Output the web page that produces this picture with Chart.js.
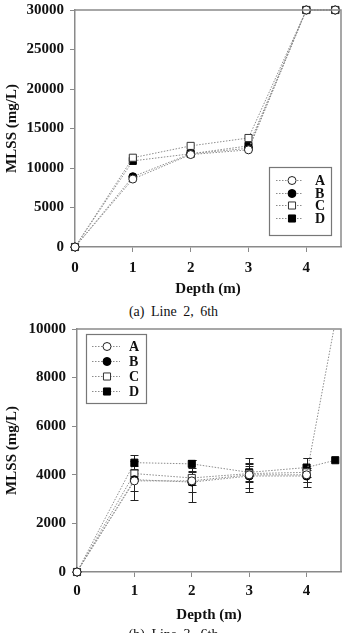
<!DOCTYPE html>
<html><head><meta charset="utf-8">
<script src="https://cdn.jsdelivr.net/npm/chart.js@4.4.0/dist/chart.umd.min.js"></script>
<style>
html,body{margin:0;padding:0;background:#fff;width:347px;height:633px;overflow:hidden;position:relative;}
.box{position:absolute;left:0;width:347px;}
#b1{top:0;height:300px;}
#b2{top:318px;height:315px;}
.cap{position:absolute;left:0;width:347px;text-align:center;font-family:"Liberation Serif",serif;font-size:14px;word-spacing:3px;color:#111;line-height:16px;}
</style></head><body>
<div class="box" id="b1"><canvas id="c1"></canvas></div>
<div class="cap" style="top:304px">(a) Line 2, 6th</div>
<div class="box" id="b2"><canvas id="c2"></canvas></div>
<div class="cap" style="top:627px">(b) Line 3, 6th</div>
<script>
// ---- data ----
const SERIES_NAMES = ['A', 'B', 'C', 'D'];
const DEPTH = [0, 1, 2, 3, 4, 4.5];
const X_TICKS = [0, 1, 2, 3, 4];

// (a) Line 2, 6th
const Y1_TICKS = [0, 5000, 10000, 15000, 20000, 25000, 30000];
const A1 = [0, 8600, 11700, 12300, 30000, 30000];
const B1 = [0, 8900, 11800, 12500, 30000, 30000];
const C1 = [0, 11300, 12800, 13800, 30000, 30000];
const D1 = [0, 10900, 11800, 12800, 30000, 30000];

// (b) Line 3, 6th
const Y2_TICKS = [0, 2000, 4000, 6000, 8000, 10000];
const A2 = [0, 3750, 3750, 4000, 4000, 10300];
const B2 = [0, 3800, 3700, 3950, 3950, null];
const C2 = [0, 4050, 3870, 4050, 4100, null];
const D2 = [0, 4500, 4450, 4100, 4300, 4600];
const A2_ERR = [0, 800, 850, 700, 300, 0];
const B2_ERR = [0, 450, 400, 500, 250, 0];
const C2_ERR = [0, 300, 300, 300, 600, 0];
const D2_ERR = [0, 300, 150, 400, 400, 0];

// ---- styles ----
const MARK = [
  {pointStyle:'circle', bg:'#ffffff', bd:'#222', r:4},
  {pointStyle:'circle', bg:'#000000', bd:'#000', r:4},
  {pointStyle:'rect',   bg:'#ffffff', bd:'#333', r:5},
  {pointStyle:'rect',   bg:'#000000', bd:'#000', r:5}
];
const LINE_COLOR = '#8c8c8c';
const FRAME = '#8a8a8a';
const FONT = {family:'"Liberation Serif", "Times New Roman", serif', size:15, weight:'bold'};

const extras = {
  id:'extras',
  beforeDatasetsDraw(chart, args, o) {
    const ctx = chart.ctx, x = chart.scales.x, y = chart.scales.y;
    if (o.errors) {
      ctx.save();
      ctx.strokeStyle = '#222'; ctx.lineWidth = 1;
      o.errors.forEach((err, i) => {
        const vals = chart.data.datasets[i].data;
        vals.forEach((p, j) => {
          if (p.y == null || !err[j]) return;
          const px = Math.round(x.getPixelForValue(p.x)) + 0.5;
          const y0 = Math.round(y.getPixelForValue(p.y - err[j])) + 0.5;
          const y1 = Math.round(y.getPixelForValue(p.y + err[j])) + 0.5;
          ctx.beginPath();
          ctx.moveTo(px, y0); ctx.lineTo(px, y1);
          ctx.moveTo(px - 4, y0); ctx.lineTo(px + 4, y0);
          ctx.moveTo(px - 4, y1); ctx.lineTo(px + 4, y1);
          ctx.stroke();
        });
      });
      ctx.restore();
    }
  },
  afterDraw(chart, args, o) {
    const ctx = chart.ctx, ca = chart.chartArea;
    ctx.save();
    ctx.strokeStyle = FRAME; ctx.lineWidth = 1.5;
    ctx.beginPath();
    ctx.moveTo(ca.left, ca.top); ctx.lineTo(ca.right, ca.top); ctx.lineTo(ca.right, ca.bottom);
    ctx.stroke();
    const L = o.legend;
    const x0 = L.corner === 'br' ? ca.right - L.dx - L.w : ca.left + L.dx;
    const y0 = L.corner === 'br' ? ca.bottom - L.dy - L.h : ca.top + L.dy;
    ctx.fillStyle = '#fff';
    ctx.fillRect(x0, y0, L.w, L.h);
    ctx.strokeStyle = '#777'; ctx.lineWidth = 1.2;
    ctx.strokeRect(Math.round(x0) + 0.5, Math.round(y0) + 0.5, L.w, L.h);
    chart.data.datasets.forEach((ds, i) => {
      const yy = Math.round(y0 + L.first + i * L.gap) + 0.5;
      ctx.setLineDash([1.5, 1.5]);
      ctx.strokeStyle = LINE_COLOR; ctx.lineWidth = 1;
      ctx.beginPath(); ctx.moveTo(x0 + L.lx0, yy); ctx.lineTo(x0 + L.lx1, yy); ctx.stroke();
      ctx.setLineDash([]);
      ctx.fillStyle = MARK[i].bg; ctx.strokeStyle = MARK[i].bd; ctx.lineWidth = 1;
      Chart.helpers.drawPoint(ctx, {pointStyle: MARK[i].pointStyle, radius: MARK[i].r, rotation: 0, borderWidth: 1}, x0 + L.mx, yy);
      ctx.fillStyle = '#111';
      ctx.font = 'bold 14px "Liberation Serif", serif';
      ctx.textBaseline = 'middle'; ctx.textAlign = 'left';
      ctx.fillText(ds.label, x0 + L.tx, yy + 1);
    });
    ctx.restore();
  }
};

function makeChart(id, series, yTicks, cfg) {
  const datasets = series.map((vals, i) => ({
    label: SERIES_NAMES[i],
    data: DEPTH.map((d, j) => ({x: d, y: vals[j]})),
    borderColor: LINE_COLOR, borderWidth: 1, borderDash: [1.5, 1.5],
    pointStyle: MARK[i].pointStyle, pointRadius: MARK[i].r, pointHoverRadius: MARK[i].r,
    pointBackgroundColor: MARK[i].bg, pointBorderColor: MARK[i].bd, pointBorderWidth: 1,
    fill: false, tension: 0, spanGaps: false,
    clip: cfg.clip
  }));
  return new Chart(document.getElementById(id), {
    type: 'line',
    data: {datasets},
    plugins: [extras],
    options: {
      responsive: true, maintainAspectRatio: false, animation: false,
      layout: {padding: cfg.padding},
      plugins: {legend: {display: false}, tooltip: {enabled: false},
        extras: {legend: cfg.legend, errors: cfg.errors}},
      scales: {
        x: {type: 'linear', min: 0, max: 4.6,
          afterBuildTicks: s => { s.ticks = X_TICKS.map(v => ({value: v})); },
          afterFit: s => { s.height = cfg.xH; s.paddingLeft = 0; s.paddingRight = 0; s.paddingTop = 0; s.paddingBottom = 0; },
          grid: {display: true, drawOnChartArea: false, drawTicks: true, tickLength: 5, color: FRAME, lineWidth: 1},
          border: {display: true, color: FRAME, width: 1.5},
          ticks: {font: FONT, color: '#111', padding: cfg.xPad, maxRotation: 0, autoSkip: false, callback: v => String(v)},
          title: {display: true, text: 'Depth (m)', font: FONT, color: '#111', padding: {top: 0, bottom: cfg.xTitlePad}}
        },
        y: {type: 'linear', min: 0, max: yTicks[yTicks.length - 1],
          afterBuildTicks: s => { s.ticks = yTicks.map(v => ({value: v})); },
          afterFit: s => { s.width = cfg.yW; s.paddingLeft = 0; s.paddingRight = 0; s.paddingTop = 0; s.paddingBottom = 0; },
          grid: {display: true, drawOnChartArea: false, drawTicks: true, tickLength: 5, color: FRAME, lineWidth: 1},
          border: {display: true, color: FRAME, width: 1.5},
          ticks: {font: FONT, color: '#111', padding: 6, autoSkip: false, callback: v => String(v)},
          title: {display: true, text: 'MLSS (mg/L)', font: FONT, color: '#111', padding: {top: 3, bottom: 0}}
        }
      }
    }
  });
}

makeChart('c1', [A1, B1, C1, D1], Y1_TICKS, {
  padding: {top: 10, right: 1, left: 0, bottom: 0},
  xH: 53, yW: 75, xPad: 7, xTitlePad: 2, clip: false,
  legend: {corner: 'br', dx: 10, dy: 12, w: 62, h: 68, first: 13, gap: 12.7, lx0: 7, lx1: 34, mx: 23, tx: 46}
});

makeChart('c2', [A2, B2, C2, D2], Y2_TICKS, {
  padding: {top: 11, right: 2, left: 0, bottom: 0},
  xH: 61, yW: 77, xPad: 5, xTitlePad: 9,
  clip: {left: false, top: 0, right: false, bottom: false},
  errors: [A2_ERR, B2_ERR, C2_ERR, D2_ERR],
  legend: {corner: 'tl', dx: 9, dy: 5, w: 60, h: 69, first: 12, gap: 15, lx0: 6, lx1: 34, mx: 21, tx: 43}
});
</script>
</body></html>
